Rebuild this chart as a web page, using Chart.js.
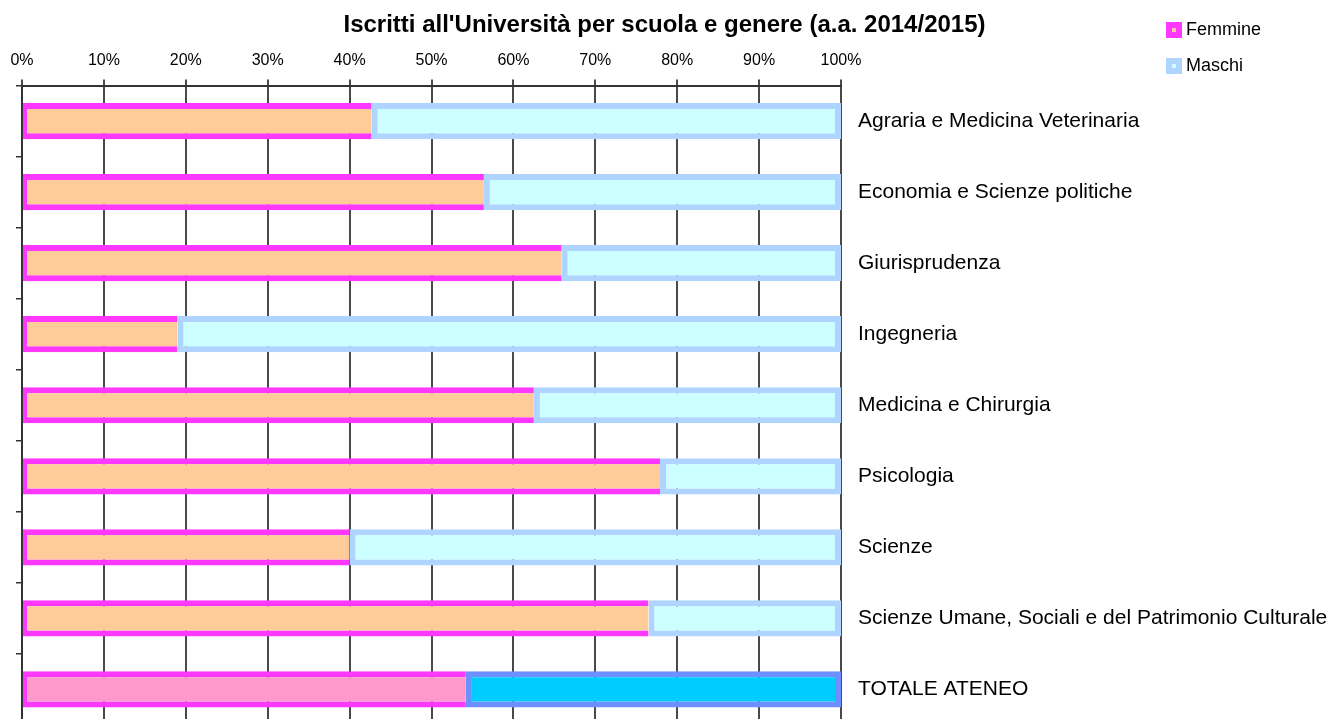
<!DOCTYPE html>
<html>
<head>
<meta charset="utf-8">
<script src="https://cdn.jsdelivr.net/npm/chart.js@4/dist/chart.umd.min.js"></script>
<style>
  html, body { margin: 0; padding: 0; background: #ffffff; overflow: hidden; }
  #wrap { width: 1329px; height: 725px; }
</style>
</head>
<body>
<div id="wrap"><canvas id="c" width="1329" height="725"></canvas></div>
<script>
const titleText = "Iscritti all'Università per scuola e genere (a.a. 2014/2015)";
const categories = [
  "Agraria e Medicina Veterinaria",
  "Economia e Scienze politiche",
  "Giurisprudenza",
  "Ingegneria",
  "Medicina e Chirurgia",
  "Psicologia",
  "Scienze",
  "Scienze Umane, Sociali e del Patrimonio Culturale",
  "TOTALE ATENEO"
];
const femmine = [42.7, 56.4, 65.9, 19.0, 62.5, 77.9, 40.0, 76.5, 54.2];
const maschi  = [57.3, 43.6, 34.1, 81.0, 37.5, 22.1, 60.0, 23.5, 45.8];
const seriesNames = ["Femmine", "Maschi"];
const xTicks = [0, 10, 20, 30, 40, 50, 60, 70, 80, 90, 100];

const FONT = "'Liberation Sans', Arial, sans-serif";
const femFill = categories.map((c, i) => i === categories.length - 1 ? '#FF99CC' : '#FFCC99');
const femBorder = '#FF38FF';
const masFill = categories.map((c, i) => i === categories.length - 1 ? '#00CCFF' : '#CCFFFF');
const masBorder = categories.map((c, i) => i === categories.length - 1 ? '#6E8FFF' : '#AED4FF');

const legendPlugin = {
  id: 'customLegend',
  afterDraw(chart) {
    const ctx = chart.ctx;
    const items = [
      { label: chart.data.datasets[0].label, outer: femBorder, inner: '#FFCC99', y: 30 },
      { label: chart.data.datasets[1].label, outer: '#AED4FF', inner: '#CCFFFF', y: 66 }
    ];
    ctx.save();
    items.forEach(it => {
      ctx.fillStyle = it.outer;
      ctx.fillRect(1166, it.y - 8, 16, 16);
      ctx.fillStyle = it.inner;
      ctx.fillRect(1172, it.y - 2, 4, 4);
      ctx.fillStyle = '#000';
      ctx.font = "18px " + FONT;
      ctx.textBaseline = 'middle';
      ctx.textAlign = 'left';
      ctx.fillText(it.label, 1186, it.y);
    });
    ctx.restore();
  }
};

function noPad(scale) { scale.paddingTop = 0; scale.paddingBottom = 0; }

new Chart(document.getElementById('c'), {
  type: 'bar',
  data: {
    labels: categories,
    datasets: [
      {
        label: seriesNames[0],
        data: femmine,
        backgroundColor: femFill,
        borderColor: femBorder,
        borderWidth: { top: 6, bottom: 6, left: 4, right: 0 },
        borderSkipped: false,
        barPercentage: 0.51,
        categoryPercentage: 1.0
      },
      {
        label: seriesNames[1],
        data: maschi,
        backgroundColor: masFill,
        borderColor: masBorder,
        borderWidth: { top: 6, bottom: 6, left: 6, right: 6 },
        borderSkipped: false,
        barPercentage: 0.51,
        categoryPercentage: 1.0
      }
    ]
  },
  options: {
    indexAxis: 'y',
    responsive: false,
    animation: false,
    events: [],
    layout: { padding: 0 },
    plugins: {
      legend: { display: false },
      tooltip: { enabled: false },
      title: {
        display: true,
        text: titleText,
        color: '#000',
        font: { family: FONT, size: 24, weight: 'bold', lineHeight: 1.2 },
        padding: { top: 11, bottom: 0 }
      }
    },
    scales: {
      x: {
        type: 'linear',
        position: 'top',
        stacked: true,
        min: 0,
        max: 100,
        afterBuildTicks(scale) { scale.ticks = xTicks.map(v => ({ value: v })); },
        afterFit(scale) { scale.height = 45.7; },
        ticks: {
          color: '#000',
          padding: 9.5,
          font: { family: FONT, size: 16 },
          callback: v => v + '%'
        },
        grid: { color: '#4a4a4a', lineWidth: 2, tickLength: 6, drawTicks: true },
        border: { display: true, color: '#333', width: 2 }
      },
      y: {
        type: 'category',
        position: 'left',
        stacked: true,
        offset: true,
        afterFit(scale) { scale.width = 22; noPad(scale); },
        ticks: { display: false },
        grid: { offset: true, drawOnChartArea: false, drawTicks: true, tickLength: 6, color: '#333', lineWidth: 1.5 },
        border: { display: true, color: '#333', width: 2 }
      },
      y2: {
        type: 'category',
        position: 'right',
        labels: categories,
        offset: true,
        afterFit(scale) { scale.width = 488; noPad(scale); },
        ticks: { color: '#000', padding: 17, font: { family: FONT, size: 21 }, autoSkip: false },
        grid: { display: false, drawTicks: false, tickLength: 0 },
        border: { display: false }
      }
    }
  },
  plugins: [legendPlugin]
});
</script>
</body>
</html>
